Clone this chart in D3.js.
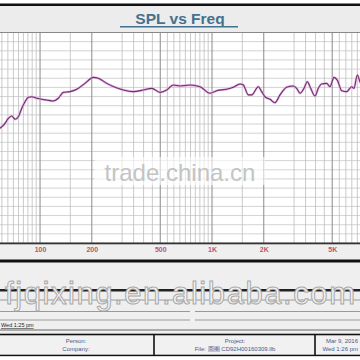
<!DOCTYPE html>
<html><head><meta charset="utf-8">
<script src="https://cdn.jsdelivr.net/npm/d3@7"></script>
<style>body{margin:0;background:#fff}svg{display:block}text{font-family:"Liberation Sans",Arial,sans-serif}</style>
</head><body>
<svg id="c" width="360" height="360"></svg>
<script>
const title = "SPL vs Freq";
const freqs = [58.5,62.6,65.4,68.5,71.6,74.8,78.3,81.8,85.5,89.5,95.7,102.3,109.4,119.5,127.8,136.6,149.4,163.5,182.6,204.1,218.3,244.2,272.9,305,348.7,398.6,446.1,498.6,545.2,595.7,651.6,744.9,851.6,973.6,1065,1218,1330,1455,1521,1626,1702,1859,1945,2033,2174,2325,2485,2719,2970,3108,3248,3427,3583,3749,3971,4150,4343,4645,4853,5121,5353,5678,6069,6490,6693,6997,7254,7500];
const spl = [62.7,65.4,68.1,69.4,67.6,69.0,73.6,77.2,79.6,79.9,79.1,78.5,78.1,77.6,79.1,82.3,82.7,84.0,87.2,90.5,90.0,87.2,85.1,83.6,82.7,83.6,84.5,82.3,83.6,86.3,85.8,86.3,85.4,81.8,83.2,84.0,85.1,86.9,86.3,80.9,80.9,85.4,82.7,79.9,78.5,76.6,80.9,85.1,85.8,84.5,81.8,84.5,88.1,84.5,80.3,84.5,86.9,87.2,85.4,90.5,89.0,83.2,82.7,85.4,84.5,91.8,88.1,86];
const tickFreqs = [100,200,500,1000,2000,5000];
const tickLabels = ["100","200","500","1K","2K","5K"];
const gridDecades = [10,100,1000];
const gridMultipliers = [1,1.5,2,3,3.5,4,4.5,5,5.5,6,6.5,7,7.5,8,8.5,9,9.5];
const freqDomain = [58.5,7254];
const splDomain = [0,115];
const splStep = 5;
const watermark1 = "trade.china.cn";
const watermark2 = "fjqixing.en.alibaba.com";
const footerTime = "Wed  1:25 pm";
const boxLeft = ["Person:","Company:"];
const boxMid = ["Project:","File: 圆圈 CD92H00160309.llb"];
const boxRight = ["Mar  9, 2016","Wed  1:26 pm"];

const svg = d3.select("#c");
const W = 360, plotTop = 32.5, plotBottom = 243;
const x = d3.scaleLog().domain(freqDomain).range([0, W]);
const y = d3.scaleLinear().domain(splDomain).range([plotBottom, plotTop]);

// header
svg.append("rect").attr("x",0).attr("y",0).attr("width",W).attr("height",360).attr("fill","#ffffff");
svg.append("rect").attr("x",0).attr("y",5).attr("width",W).attr("height",plotTop-5).attr("fill","#ececec");
svg.append("rect").attr("x",0).attr("y",3.5).attr("width",W).attr("height",2.5).attr("fill","#111");
svg.append("text").attr("x",180).attr("y",24).attr("text-anchor","middle")
  .attr("font-size",15.5).attr("font-weight","bold").attr("fill","#43718f").text(title);
svg.append("rect").attr("x",120).attr("y",26).attr("width",118).attr("height",1.5).attr("fill","#43718f");

// plot background
svg.append("rect").attr("x",0).attr("y",plotTop).attr("width",W).attr("height",plotBottom-plotTop).attr("fill","#fff");

// horizontal grid
const g = svg.append("g");
g.selectAll("line.h").data(d3.range(splDomain[0], splDomain[1]+0.1, splStep)).join("line")
  .attr("x1",0).attr("x2",W).attr("y1",d=>y(d)).attr("y2",d=>y(d))
  .attr("stroke","#c8c8c8").attr("stroke-width",0.8);

// vertical grid
const gridF = [];
gridDecades.forEach(d=>gridMultipliers.forEach(m=>gridF.push(d*m)));
const vf = gridF.filter(f=>f>=freqDomain[0] && f<=freqDomain[1]);
g.selectAll("line.v").data(vf).join("line")
  .attr("x1",d=>x(d)).attr("x2",d=>x(d)).attr("y1",plotTop).attr("y2",plotBottom)
  .attr("stroke",d=>tickFreqs.includes(d)?"#8a8a8a":"#bdbdbd")
  .attr("stroke-width",d=>tickFreqs.includes(d)?1:0.8);

svg.append("line").attr("x1",0).attr("x2",W).attr("y1",plotTop).attr("y2",plotTop).attr("stroke","#888").attr("stroke-width",1);

// watermark 1
svg.append("rect").attr("x",95).attr("y",157).attr("width",170).attr("height",28).attr("fill","#fff").attr("opacity",0.6);
svg.append("text").attr("x",180).attr("y",181).attr("text-anchor","middle").attr("font-size",24)
  .attr("fill","#c4c4c4").text(watermark1);

// curve
const line = d3.line().x((d,i)=>x(freqs[i])).y(d=>y(d)).curve(d3.curveMonotoneX);
svg.append("path").datum(spl).attr("d",line).attr("fill","none").attr("stroke","#e6b4e6").attr("stroke-width",2.4);
svg.append("path").datum(spl).attr("d",line).attr("fill","none").attr("stroke","#6e2f6c").attr("stroke-width",1.1);

// axis area
svg.append("rect").attr("x",0).attr("y",plotBottom).attr("width",W).attr("height",360-plotBottom).attr("fill","#efefef");
svg.append("rect").attr("x",0).attr("y",plotBottom-0.5).attr("width",W).attr("height",1.8).attr("fill","#333");
const xAxis = d3.axisBottom(x).tickValues(tickFreqs).tickFormat((d,i)=>tickLabels[i]).tickSize(0).tickPadding(3);
const ax = svg.append("g").attr("transform",`translate(0,${plotBottom+1})`).call(xAxis);
ax.select(".domain").remove();
ax.selectAll("text").attr("font-size",7).attr("font-weight","bold").attr("fill","#c2506e").attr("font-family","Liberation Sans, Arial");

// footer
svg.append("rect").attr("x",0).attr("y",259.5).attr("width",W).attr("height",3).attr("fill","#111");
svg.append("rect").attr("x",0).attr("y",289).attr("width",W).attr("height",2.5).attr("fill","#222");
svg.append("line").attr("x1",0).attr("x2",W).attr("y1",300).attr("y2",300).attr("stroke","#999").attr("stroke-width",1);
[311.5,320].forEach(yy=>{
  svg.append("line").attr("x1",0).attr("x2",190).attr("y1",yy).attr("y2",yy).attr("stroke","#999");
  svg.append("line").attr("x1",195).attr("x2",W).attr("y1",yy).attr("y2",yy).attr("stroke","#999");
});
svg.append("text").attr("x",1).attr("y",327).attr("font-size",5.5).attr("fill","#222").attr("text-decoration","underline").text(footerTime);
svg.append("line").attr("x1",0).attr("x2",W).attr("y1",330).attr("y2",330).attr("stroke","#444").attr("stroke-width",0.8);
svg.append("rect").attr("x",-2).attr("y",334.5).attr("width",W+4).attr("height",21).attr("fill","#f1f1f1").attr("stroke","#111").attr("stroke-width",1.6);
[154,315].forEach(xx=>svg.append("line").attr("x1",xx).attr("x2",xx).attr("y1",334.5).attr("y2",355.5).attr("stroke","#111").attr("stroke-width",1.6));
function box(lines, cx, anchor){
  lines.forEach((t,i)=>svg.append("text").attr("x",cx).attr("y",343+i*8).attr("text-anchor",anchor)
    .attr("font-size",6).attr("fill","#4a5a8a").text(t));
}
box(boxLeft,76,"middle"); box(boxMid,235,"middle"); box(boxRight,358,"end");
svg.append("rect").attr("x",0).attr("y",356.5).attr("width",W).attr("height",3.5).attr("fill","#fff");

// watermark 2
svg.append("text").attr("x",180).attr("y",304).attr("text-anchor","middle").attr("font-size",31)
  .attr("fill","#f4f4f4").attr("stroke","#a8a8a8").attr("stroke-width",1).attr("textLength",350).text(watermark2);
</script>
</body></html>
